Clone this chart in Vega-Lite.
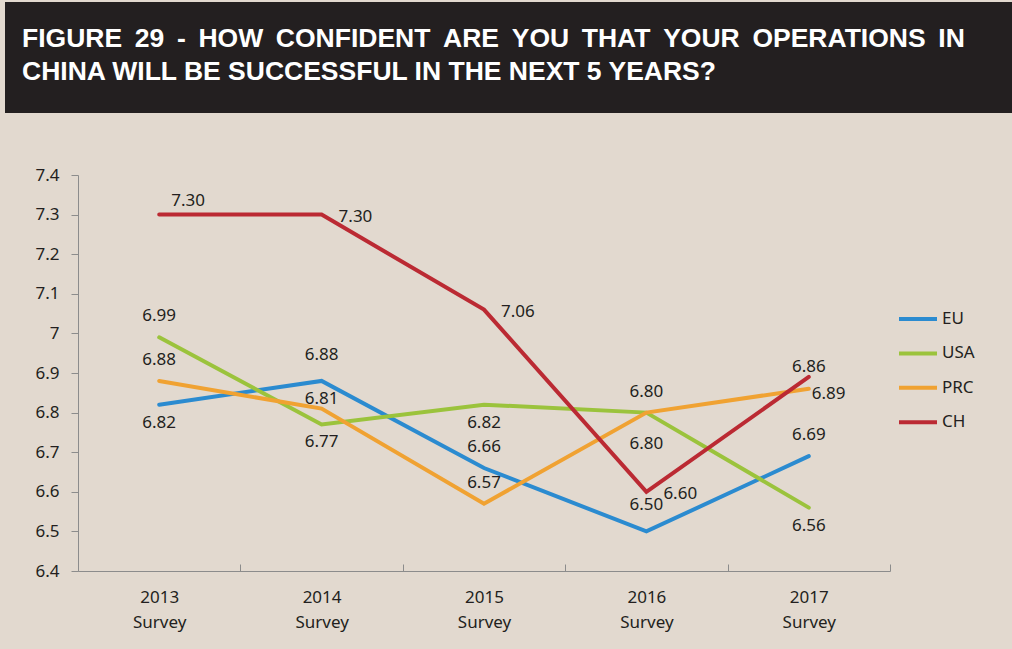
{
  "$schema": "https://vega.github.io/schema/vega-lite/v6.json",
  "background": "#e2d9cf",
  "padding": {"left": 5, "top": 2, "right": 0, "bottom": 21},
  "spacing": 53,
  "columns": 1,
  "resolve": {"legend": {"color": "independent"}},
  "config": {"view": {"stroke": null}, "font": "Noto Sans"},
  "datasets": {
    "scores": [
      {"series": "EU", "year": "2013 Survey", "value": 6.82, "label": "6.82", "place": "below"},
      {"series": "EU", "year": "2014 Survey", "value": 6.88, "label": "6.88", "place": "above2"},
      {"series": "EU", "year": "2015 Survey", "value": 6.66, "label": "6.66", "place": "above"},
      {"series": "EU", "year": "2016 Survey", "value": 6.50, "label": "6.50", "place": "above2"},
      {"series": "EU", "year": "2017 Survey", "value": 6.69, "label": "6.69", "place": "above"},
      {"series": "USA", "year": "2013 Survey", "value": 6.99, "label": "6.99", "place": "above"},
      {"series": "USA", "year": "2014 Survey", "value": 6.77, "label": "6.77", "place": "below"},
      {"series": "USA", "year": "2015 Survey", "value": 6.82, "label": "6.82", "place": "below"},
      {"series": "USA", "year": "2016 Survey", "value": 6.80, "label": "6.80", "place": "above"},
      {"series": "USA", "year": "2017 Survey", "value": 6.56, "label": "6.56", "place": "below"},
      {"series": "PRC", "year": "2013 Survey", "value": 6.88, "label": "6.88", "place": "above"},
      {"series": "PRC", "year": "2014 Survey", "value": 6.81, "label": "6.81", "place": "above3"},
      {"series": "PRC", "year": "2015 Survey", "value": 6.57, "label": "6.57", "place": "above"},
      {"series": "PRC", "year": "2016 Survey", "value": 6.80, "label": "6.80", "place": "below2"},
      {"series": "PRC", "year": "2017 Survey", "value": 6.86, "label": "6.89", "place": "right2"},
      {"series": "CH", "year": "2013 Survey", "value": 7.30, "label": "7.30", "place": "aboveright"},
      {"series": "CH", "year": "2014 Survey", "value": 7.30, "label": "7.30", "place": "right"},
      {"series": "CH", "year": "2015 Survey", "value": 7.06, "label": "7.06", "place": "right"},
      {"series": "CH", "year": "2016 Survey", "value": 6.60, "label": "6.60", "place": "right"},
      {"series": "CH", "year": "2017 Survey", "value": 6.89, "label": "6.86", "place": "above3"}
    ]
  },
  "concat": [
    {
      "width": 1007,
      "height": 111,
      "view": {"fill": "#231f20", "stroke": null},
      "title": {
        "text": ["FIGURE \u200929 \u2009- \u2009HOW \u2009CONFIDENT \u2009ARE \u2009YOU \u2009THAT \u2009YOUR \u2009OPERATIONS \u2009IN", "CHINA WILL BE SUCCESSFUL IN THE NEXT 5 YEARS?"],
        "anchor": "start",
        "frame": "group",
        "orient": "bottom",
        "offset": -66,
        "baseline": "alphabetic",
        "dx": 17,
        "font": "Liberation Sans",
        "fontSize": 26.5,
        "fontWeight": "bold",
        "color": "#ffffff",
        "lineHeight": 33
      },
      "data": {"values": [{}]},
      "mark": {"type": "text"},
      "encoding": {"text": {"value": ""}}
    },
    {
      "width": 885,
      "height": 396,
      "data": {"name": "scores"},
      "encoding": {
        "x": {
          "field": "year",
          "type": "nominal",
          "scale": {"type": "band", "paddingInner": 0, "paddingOuter": 0, "range": [73, 885]},
          "axis": {
            "title": null,
            "labelAngle": 0,
            "labelExpr": "split(datum.label, ' ')",
            "labelFont": "Noto Sans",
            "labelFontSize": 17,
            "labelColor": "#231f20",
            "labelLineHeight": 25,
            "labelBaseline": "top",
            "labelPadding": 25,
            "tickBand": "extent",
            "tickSize": -7,
            "tickColor": "#8c8c8c",
            "domainColor": "#8c8c8c",
            "grid": false
          }
        },
        "y": {
          "field": "value",
          "type": "quantitative",
          "scale": {"domain": [6.4, 7.4], "nice": false, "zero": false},
          "axis": {
            "title": null,
            "offset": -73,
            "values": [6.4, 6.5, 6.6, 6.7, 6.8, 6.9, 7.0, 7.1, 7.2, 7.3, 7.4],
            "format": "~f",
            "grid": false,
            "labelFont": "Noto Sans",
            "labelFontSize": 17,
            "labelColor": "#231f20",
            "labelPadding": 12,
            "tickSize": 7,
            "tickColor": "#8c8c8c",
            "domainColor": "#8c8c8c"
          }
        }
      },
      "layer": [
        {
          "mark": {"type": "line", "strokeWidth": 4, "strokeCap": "round"},
          "encoding": {
            "color": {
              "field": "series",
              "type": "nominal",
              "scale": {"domain": ["EU", "USA", "PRC", "CH"], "range": ["#2b8bd0", "#9bc33c", "#f0a232", "#bb2a33"]},
              "legend": {
                "title": null,
                "orient": "none",
                "legendX": 892,
                "legendY": 123,
                "symbolType": "stroke",
                "symbolSize": 1444,
                "symbolStrokeWidth": 4,
                "labelFont": "Noto Sans",
                "labelFontSize": 17,
                "labelColor": "#231f20",
                "rowPadding": 5.4,
                "labelOffset": 3,
                "padding": 0
              }
            }
          }
        },
        {"transform": [{"filter": "datum.place === 'above'"}], "mark": {"type": "text", "dy": -21, "fontSize": 17, "font": "Noto Sans", "color": "#231f20"}, "encoding": {"text": {"field": "label"}}},
        {"transform": [{"filter": "datum.place === 'above2'"}], "mark": {"type": "text", "dy": -26, "fontSize": 17, "font": "Noto Sans", "color": "#231f20"}, "encoding": {"text": {"field": "label"}}},
        {"transform": [{"filter": "datum.place === 'above3'"}], "mark": {"type": "text", "dy": -10, "fontSize": 17, "font": "Noto Sans", "color": "#231f20"}, "encoding": {"text": {"field": "label"}}},
        {"transform": [{"filter": "datum.place === 'below'"}], "mark": {"type": "text", "dy": 18, "fontSize": 17, "font": "Noto Sans", "color": "#231f20"}, "encoding": {"text": {"field": "label"}}},
        {"transform": [{"filter": "datum.place === 'below2'"}], "mark": {"type": "text", "dy": 31, "fontSize": 17, "font": "Noto Sans", "color": "#231f20"}, "encoding": {"text": {"field": "label"}}},
        {"transform": [{"filter": "datum.place === 'right'"}], "mark": {"type": "text", "dx": 17, "dy": 2, "align": "left", "fontSize": 17, "font": "Noto Sans", "color": "#231f20"}, "encoding": {"text": {"field": "label"}}},
        {"transform": [{"filter": "datum.place === 'right2'"}], "mark": {"type": "text", "dx": 3, "dy": 5, "align": "left", "fontSize": 17, "font": "Noto Sans", "color": "#231f20"}, "encoding": {"text": {"field": "label"}}},
        {"transform": [{"filter": "datum.place === 'aboveright'"}], "mark": {"type": "text", "dx": 12, "dy": -14, "align": "left", "fontSize": 17, "font": "Noto Sans", "color": "#231f20"}, "encoding": {"text": {"field": "label"}}}
      ]
    }
  ]
}
